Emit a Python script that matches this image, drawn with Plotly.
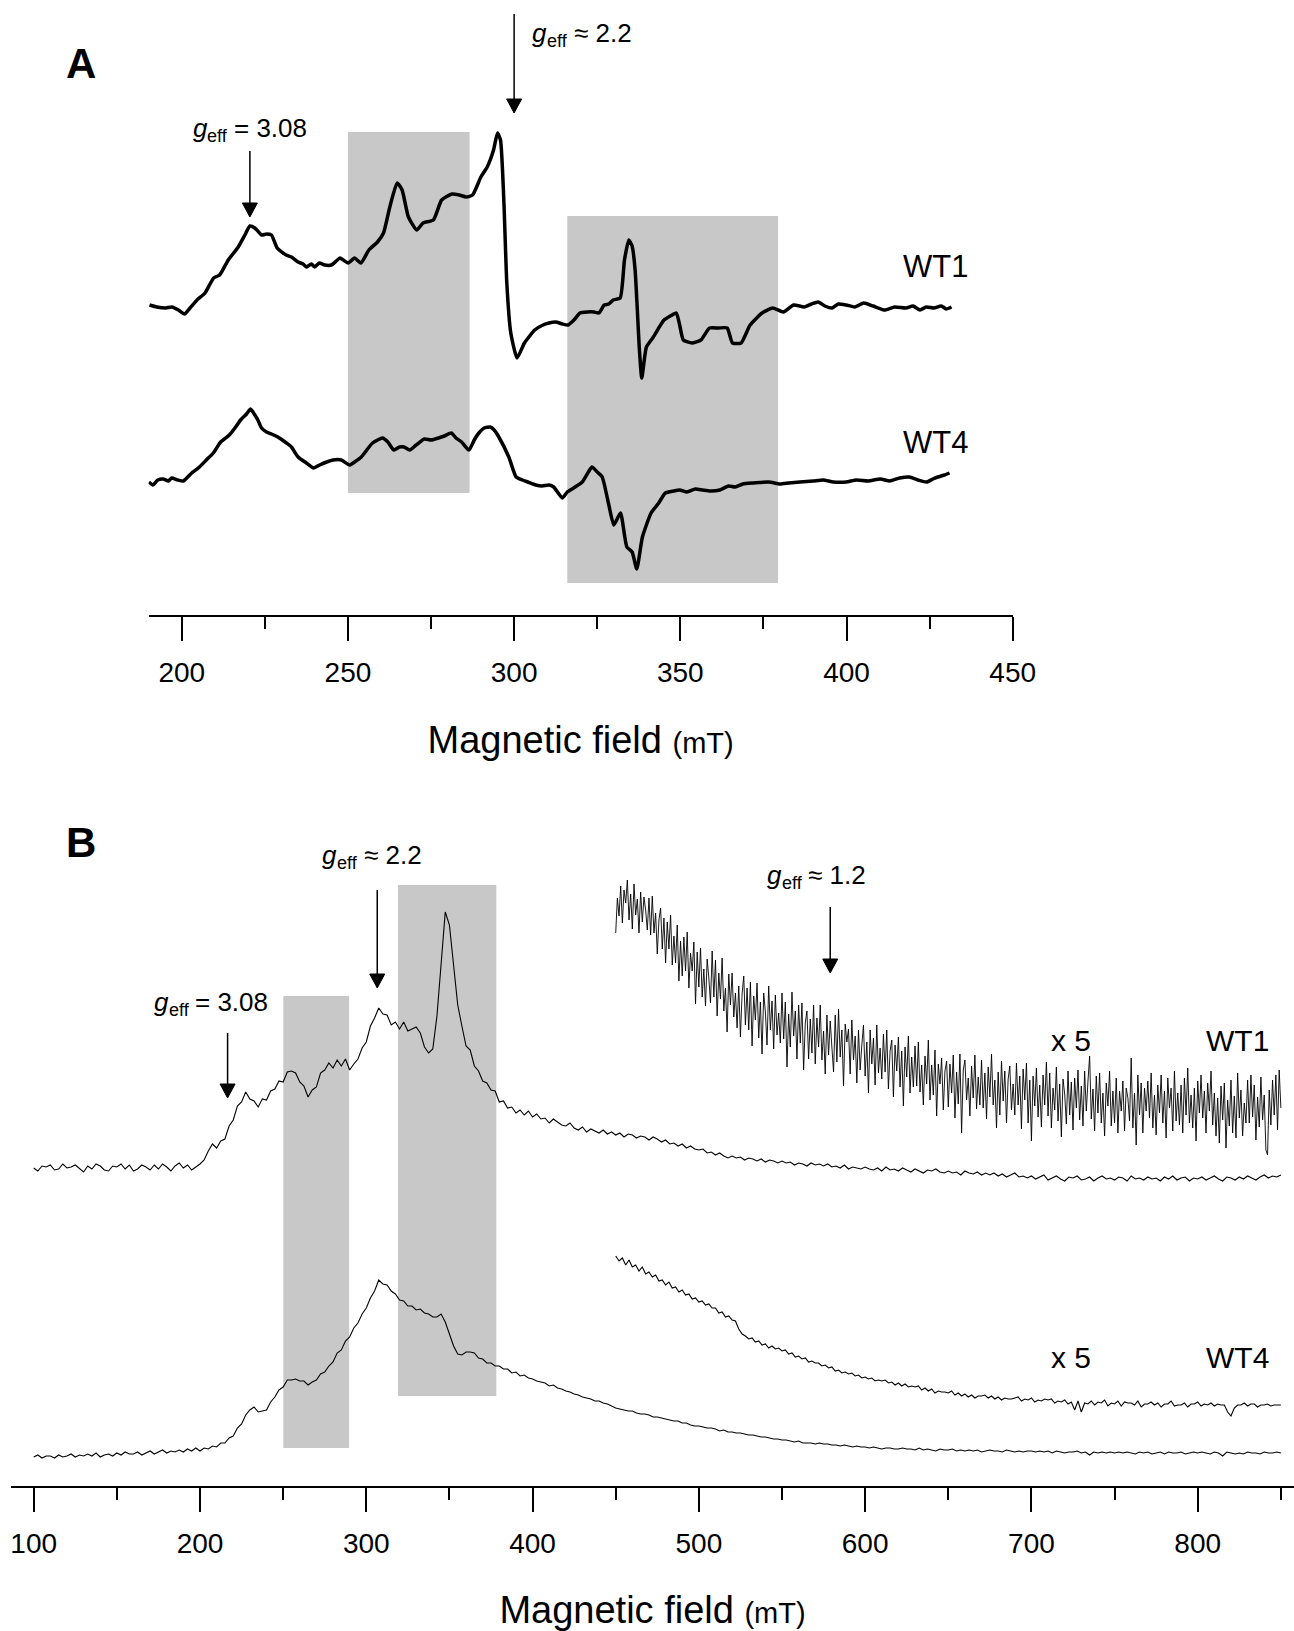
import numpy as np
import plotly.graph_objects as go

FONT = "Liberation Sans, Arial, Helvetica, sans-serif"

# ---------------- Panel A : smoothed EPR spectra (field in mT, dI/dB in a.u.) ----------------
A_WT1_FIELD = [190.3, 192.5, 195.2, 197.0, 199.0, 200.8, 202.5, 204.6, 207.0, 209.6,
               211.4, 214.0, 217.0, 219.0, 220.5, 222.0, 224.0, 225.5, 227.0, 228.7,
               231.4, 233.0, 235.0, 236.5, 237.6, 239.0, 240.0, 241.4, 243.0, 245.0,
               246.5, 247.6, 249.0, 250.1, 252.0, 253.9, 256.3, 258.9, 260.7, 262.6,
               264.8, 266.3, 268.2, 270.7, 272.6, 275.7, 278.2, 281.3, 283.5, 285.6,
               287.5, 290.0, 291.9, 293.8, 295.0, 295.9, 296.9, 297.8, 299.0, 300.9,
               303.1, 306.2, 308.7, 310.5, 312.5, 314.5, 316.2, 318.0, 319.8, 322.0,
               324.0, 325.5, 327.1, 328.5, 329.8, 331.9, 333.2, 334.5, 335.5, 336.4,
               337.7, 338.4, 339.8, 341.9, 343.5, 345.1, 347.0, 348.8, 349.8, 350.9,
               353.5, 356.2, 358.8, 361.5, 364.1, 365.7, 368.3, 371.0, 374.6, 377.8,
               381.0, 384.1, 387.3, 389.5, 391.5, 393.5, 395.7, 397.5, 399.9, 402.5,
               405.2, 408.0, 411.5, 414.5, 417.9, 420.0, 422.1, 424.0, 426.3, 428.5,
               430.0, 431.6]
A_WT1_SIGNAL = [5, 3, 2, 3, 0, -4, 2, 10, 17, 32,
                35, 50, 63, 75, 84, 82, 75, 76, 75, 62,
                55, 53, 48, 46, 43, 46, 43, 47, 45, 45,
                49, 52, 49, 47, 52, 47, 60, 68, 77, 103,
                127, 120, 93, 80, 87, 90, 110, 116, 115, 113,
                115, 133, 143, 160, 177, 170, 110, 27, -23, -48,
                -33, -20, -15, -13, -12, -14, -15, -10, -3, -2,
                -2, -3, 5, 6, 10, 12, 50, 70, 64, 40,
                -40, -68, -37, -27, -18, -10, -6, -3, -15, -30,
                -33, -30, -18, -18, -18, -33, -33, -15, -3, 2,
                -2, 5, 3, 6, 8, 4, 2, 6, 5, 3,
                7, 4, 0, 3, 2, 4, 0, 3, 2, 4,
                1, 3]

A_WT4_FIELD = [190.1, 191.3, 192.8, 194.4, 196.0, 197.0, 198.8, 200.5, 203.0, 205.0,
               207.4, 209.5, 211.7, 214.3, 216.0, 217.7, 219.5, 220.7, 222.0, 222.9,
               224.0, 225.5, 227.0, 228.9, 231.5, 233.0, 235.0, 237.5, 239.7, 241.5,
               243.6, 245.5, 248.0, 250.5, 252.0, 254.0, 257.4, 260.4, 262.0, 263.8,
               265.5, 266.9, 268.6, 270.5, 273.0, 275.0, 277.3, 279.0, 281.1, 282.5,
               284.2, 286.4, 288.0, 289.4, 291.0, 292.8, 294.0, 295.4, 298.4, 300.6,
               302.5, 304.1, 306.5, 308.4, 310.5, 311.9, 314.5, 316.0, 317.9, 320.5,
               322.0, 323.4, 325.0, 326.5, 328.5, 330.0, 332.0, 333.9, 335.5, 336.9,
               338.6, 341.2, 343.5, 345.5, 348.0, 349.8, 352.0, 354.5, 356.7, 359.0,
               361.9, 364.5, 366.5, 368.8, 372.0, 376.6, 380.0, 382.6, 386.0, 390.0,
               393.0, 396.0, 399.9, 403.0, 406.5, 410.2, 413.0, 416.0, 418.9, 421.5,
               424.1, 426.0, 427.5, 429.5, 431.0]
A_WT4_SIGNAL = [-2, -5, 0, 1, -1, 2, 0, -1, 7, 12,
                20, 27, 38, 45, 52, 60, 66, 71, 65, 60,
                52, 48, 46, 43, 37, 33, 23, 17, 12, 15,
                18, 20, 20, 15, 18, 23, 37, 42, 38, 30,
                33, 33, 30, 35, 41, 40, 42, 44, 47, 42,
                38, 30, 40, 47, 52, 53, 50, 43, 23, 3,
                0, -2, -5, -6, -5, -7, -18, -12, -8, -2,
                6, 13, 8, 3, -25, -45, -33, -67, -72, -89,
                -57, -33, -23, -13, -11, -10, -12, -9, -10, -11,
                -10, -6, -7, -4, -3, -2, -4, -3, -2, -1,
                0, -2, -2, 0, -1, 1, -1, 2, 3, 0,
                -2, 1, 3, 5, 7]

A_OFFSET = {"WT1": 305, "WT4": 135}
A_TICKS = [200, 250, 300, 350, 400, 450]
A_SHADE_FIELD = [(250.0, 286.6), (316.0, 379.4)]
A_SHADE_LEVEL = [(122, 483), (32, 399)]

# ---------------- Panel B : raw EPR spectra over a wide sweep ----------------
B_MAIN_SWEEP = (100, 850)   # mT, sampled every 2.5 mT
B_WT1 = [0, -3, 2, 1, 3, -2, -1, 4, 0, 1,
         3, -1, -4, 2, -1, 4, 2, -2, -3, 2,
         1, 4, -1, 3, -3, -1, 3, 1, -2, 3,
         -1, 4, 1, -3, 2, 5, 0, 3, -2, 1,
         4, 8, 17, 24, 20, 27, 29, 42, 48, 62,
         66, 76, 69, 67, 61, 69, 68, 77, 79, 87,
         86, 96, 97, 95, 86, 82, 71, 78, 81, 95,
         98, 105, 100, 108, 102, 109, 98, 104, 109, 120,
         126, 142, 150, 160, 154, 153, 143, 146, 139, 146,
         137, 139, 141, 135, 121, 115, 119, 152, 206, 256,
         243, 201, 163, 142, 122, 118, 102, 97, 87, 85,
         78, 77, 66, 67, 60, 61, 55, 58, 53, 57,
         51, 54, 49, 50, 45, 49, 46, 43, 42, 45,
         40, 38, 41, 36, 39, 37, 35, 38, 34, 36,
         33, 35, 31, 34, 33, 30, 32, 31, 28, 31,
         29, 26, 28, 24, 25, 22, 24, 20, 22, 19,
         18, 19, 15, 16, 13, 15, 12, 10, 12, 10,
         11, 8, 10, 9, 7, 9, 6, 8, 7, 5,
         7, 5, 6, 3, 5, 4, 2, 5, 3, 4,
         2, 4, 1, 2, 0, 3, -1, 1, 0, -1,
         1, -1, -2, 0, -3, 1, -2, -1, -3, 0,
         -2, -4, -1, -3, -5, -2, -3, -1, -4, -5,
         -3, -5, -4, -7, -3, -5, -6, -4, -7, -5,
         -7, -5, -8, -6, -9, -7, -5, -9, -8, -10,
         -8, -11, -9, -7, -12, -10, -8, -11, -13, -9,
         -10, -8, -12, -11, -9, -13, -10, -8, -11, -10,
         -12, -9, -10, -13, -8, -11, -10, -12, -9, -11,
         -10, -13, -9, -11, -8, -12, -10, -9, -13, -10,
         -11, -9, -12, -10, -8, -11, -13, -9, -10, -12,
         -9, -11, -8, -10, -12, -9, -7, -10, -8, -9,
         -7]
B_WT4 = [0, 2, -1, 1, 1, -1, 2, 0, 1, 3,
         0, 2, 1, 3, 1, 4, 0, 2, 3, 1,
         4, 2, 5, 3, 3, 5, 2, 4, 6, 3,
         5, 7, 4, 6, 5, 7, 5, 8, 6, 9,
         6, 9, 8, 11, 10, 14, 14, 19, 21, 29,
         33, 42, 47, 50, 45, 46, 47, 55, 60, 67,
         70, 77, 77, 78, 76, 76, 72, 75, 77, 83,
         85, 91, 95, 104, 107, 116, 120, 129, 134, 143,
         149, 159, 166, 177, 173, 172, 166, 163, 157, 156,
         151, 151, 147, 148, 144, 143, 140, 140, 143, 135,
         124, 111, 103, 102, 105, 105, 104, 99, 98, 94,
         94, 91, 91, 88, 88, 84, 85, 81, 82, 79,
         78, 76, 75, 74, 71, 72, 69, 68, 66, 65,
         63, 62, 60, 59, 58, 56, 56, 54, 53, 51,
         49, 48, 47, 46, 46, 44, 43, 43, 42, 40,
         40, 39, 38, 37, 36, 36, 34, 34, 32, 31,
         31, 30, 29, 29, 28, 26, 27, 25, 25, 24,
         24, 23, 22, 22, 21, 20, 20, 19, 18, 18,
         17, 17, 16, 15, 16, 14, 14, 14, 13, 14,
         13, 13, 12, 12, 11, 12, 11, 10, 11, 10,
         10, 9, 10, 9, 8, 9, 9, 8, 8, 9,
         8, 8, 7, 9, 7, 8, 7, 6, 8, 7,
         7, 8, 6, 7, 6, 7, 6, 7, 5, 6,
         7, 6, 6, 5, 7, 6, 5, 6, 5, 6,
         6, 5, 6, 5, 6, 4, 6, 5, 4, 5,
         5, 6, 4, 5, 2, 5, 4, 5, 4, 5,
         4, 5, 4, 5, 4, 3, 5, 4, 5, 3,
         4, 5, 3, 5, 4, 4, 5, 3, 4, 5,
         4, 5, 4, 3, 5, 4, 1, 5, 4, 3,
         4, 3, 5, 4, 4, 3, 5, 4, 4, 5,
         4]

B_X5_WT1_SWEEP = (450, 850)  # mT, sampled every 1 mT (x 5 magnified)
B_WT1_X5 = [170, 205, 187, 217, 180, 213, 200, 223, 183, 209, 174, 219, 188, 204, 170, 211, 181, 206, 193, 173,
            205, 168, 207, 170, 190, 149, 183, 195, 154, 185, 140, 181, 154, 188, 138, 167, 140, 178, 122, 162,
            127, 166, 132, 171, 115, 150, 132, 161, 99, 151, 116, 155, 106, 134, 97, 144, 125, 100, 152, 106,
            143, 87, 130, 104, 145, 92, 115, 71, 129, 98, 130, 86, 110, 75, 117, 66, 109, 127, 78, 115,
            73, 121, 57, 107, 83, 120, 65, 101, 49, 110, 91, 58, 117, 73, 102, 54, 108, 68, 90, 60,
            110, 64, 101, 36, 89, 56, 111, 67, 92, 44, 98, 60, 100, 33, 80, 92, 44, 84, 50, 98,
            39, 85, 56, 98, 43, 72, 29, 88, 48, 82, 56, 31, 88, 41, 94, 46, 73, 17, 79, 61,
            74, 29, 83, 43, 67, 20, 73, 33, 58, 78, 27, 61, 10, 73, 39, 65, 18, 78, 30, 55,
            24, 69, 31, 73, 14, 52, 63, 6, 58, 32, 66, 16, 52, -3, 56, 26, 67, 10, 46, 16,
            57, 17, 61, 11, 38, -2, 47, 19, 63, 3, 38, 8, 53, -13, 39, 19, 45, -7, 32, 42,
            -4, 39, 10, 48, -15, 31, -1, 49, -30, 33, 43, 3, 25, -13, 37, 5, 48, -6, 26, -2,
            43, -5, 30, -16, 36, 6, 49, -2, 23, -25, 31, -12, 42, 2, 32, -20, 24, 37, -7, 19,
            -12, 40, -2, 27, -26, 34, 3, 40, -20, 23, -38, 27, -3, 35, -14, 18, -24, 28, -2, 41,
            -13, 30, -25, 15, -7, 36, -18, 19, -34, 24, 9, -21, 32, -12, 21, -27, 25, -5, 33, -17,
            17, -23, 32, -8, 22, 47, -16, 14, -28, 27, -10, 30, -20, 10, -33, 20, -3, 32, -23, 12,
            -20, 25, -30, 12, -8, 22, -28, 15, 5, -18, 45, -25, 10, -42, 28, -12, 20, -30, 15, -8,
            22, -15, 30, -25, 8, -32, 18, -10, 28, -20, 12, -35, 25, -5, 15, -28, 32, -18, 10, -22,
            18, -30, 25, -12, 35, -20, 8, -25, 15, -38, 22, -10, 28, -15, 12, -30, 20, -8, 32, -22,
            10, -33, 5, -40, 17, -17, 20, -45, 3, -23, 23, -30, 7, -35, 30, -15, 13, -33, 0, -20,
            23, -20, 28, -14, 18, -37, 6, -24, 26, -17, 8, -47, -52, 13, -22, 23, -12, 28, -27, 33,
            -5]

B_X5_WT4_SWEEP = (450, 850)  # mT, sampled every 2 mT (x 5 magnified)
B_WT4_X5 = [150, 145, 148, 141, 146, 139, 141, 135, 139, 132,
            134, 129, 131, 125, 126, 121, 124, 118, 119, 114,
            116, 111, 112, 107, 108, 104, 105, 101, 102, 98,
            98, 93, 94, 89, 90, 86, 85, 77, 72, 70,
            67, 68, 64, 65, 61, 62, 58, 60, 57, 58,
            55, 56, 52, 53, 49, 50, 47, 48, 44, 45,
            43, 43, 40, 41, 38, 39, 35, 36, 33, 34,
            32, 33, 30, 31, 28, 29, 27, 28, 25, 26,
            25, 26, 23, 24, 21, 23, 20, 22, 19, 20,
            19, 20, 16, 18, 15, 17, 13, 15, 14, 14,
            13, 15, 11, 13, 10, 12, 9, 11, 8, 10,
            10, 11, 8, 10, 7, 9, 6, 8, 7, 7,
            8, 9, 5, 7, 6, 8, 4, 6, 5, 7,
            6, 7, 3, 5, 4, 6, 2, 4, -4, 5,
            -6, 3, 2, 5, 1, 4, 3, 6, 0, 3,
            2, 5, 0, 4, 3, 3, 1, 5, -1, 2,
            2, 4, 1, 3, -1, 2, 2, 5, 0, 1,
            1, 3, -1, 2, 2, 4, 0, 2, 1, 3,
            0, 2, 1, 1, -6, -10, -2, 1, 1, 3,
            0, 2, 2, -1, 1, 1, 2, 0, 1, 1,
            1]

B_OFFSET = {"WT1": 318, "WT4": 29, "WT1x5": 383, "WT4x5": 80}
B_TICKS = [100, 200, 300, 400, 500, 600, 700, 800]
B_SHADE_FIELD = [(250.1, 289.7), (319.1, 378.2)]
B_SHADE_LEVEL = [(38, 490), (90, 601)]

# ---------------- geometry ----------------
W, H = 1294, 1631
A_XDOM = [148.5 / W, 1012.7 / W]
A_XRNG = [190, 450]
A_YDOM = [1 - 615 / H, 1]
A_YRNG = [0, 615]
B_XDOM = [11 / W, 1.0]
B_XRNG = [86.35, 857.9]
B_YDOM = [1 - 1486 / H, 1 - 790 / H]
B_YRNG = [0, 696]

def px_per_unit(dom, rng, size):
    return (dom[1] - dom[0]) * size / (rng[1] - rng[0])

A_PPX = px_per_unit(A_XDOM, A_XRNG, W)
B_PPX = px_per_unit(B_XDOM, B_XRNG, W)
A_PPY = px_per_unit(A_YDOM, A_YRNG, H)
B_PPY = px_per_unit(B_YDOM, B_YRNG, H)

# ---------------- figure ----------------
fig = go.Figure()

def add(x, y, off, xa, ya, width, shape="linear"):
    line = dict(color="black", width=width, shape=shape)
    if shape == "spline":
        line["smoothing"] = 0.5
    fig.add_trace(go.Scatter(
        x=list(x), y=[v + off for v in y], mode="lines", xaxis=xa, yaxis=ya,
        line=line, hoverinfo="skip", showlegend=False))

add(A_WT1_FIELD, A_WT1_SIGNAL, A_OFFSET["WT1"], "x", "y", 3.5, "spline")
add(A_WT4_FIELD, A_WT4_SIGNAL, A_OFFSET["WT4"], "x", "y", 3.5, "spline")

bx_main = np.linspace(B_MAIN_SWEEP[0], B_MAIN_SWEEP[1], len(B_WT1))
bx_wt1x5 = np.linspace(B_X5_WT1_SWEEP[0], B_X5_WT1_SWEEP[1], len(B_WT1_X5))
bx_wt4x5 = np.linspace(B_X5_WT4_SWEEP[0], B_X5_WT4_SWEEP[1], len(B_WT4_X5))
add(bx_main, B_WT1, B_OFFSET["WT1"], "x2", "y2", 1.1)
add(bx_main, B_WT4, B_OFFSET["WT4"], "x2", "y2", 1.1)
add(bx_wt1x5, B_WT1_X5, B_OFFSET["WT1x5"], "x2", "y2", 0.9)
add(bx_wt4x5, B_WT4_X5, B_OFFSET["WT4x5"], "x2", "y2", 1.1)

shapes = []
for (x0, x1), (y0, y1) in zip(A_SHADE_FIELD, A_SHADE_LEVEL):
    shapes.append(dict(type="rect", xref="x", yref="y", x0=x0, x1=x1, y0=y0, y1=y1,
                       fillcolor="#c8c8c8", line=dict(width=0), layer="below"))
for (x0, x1), (y0, y1) in zip(B_SHADE_FIELD, B_SHADE_LEVEL):
    shapes.append(dict(type="rect", xref="x2", yref="y2", x0=x0, x1=x1, y0=y0, y1=y1,
                       fillcolor="#c8c8c8", line=dict(width=0), layer="below"))

def arrow(x, y_tail, y_tip, xr, yr, ppx, ppy, head_w=15, head_h=14):
    hw = head_w / 2 / ppx
    hh = head_h / ppy
    shapes.append(dict(type="line", xref=xr, yref=yr, x0=x, x1=x, y0=y_tail,
                       y1=y_tip + hh * 0.5, line=dict(color="black", width=1.5)))
    shapes.append(dict(type="path", xref=xr, yref=yr,
                       path=f"M {x - hw},{y_tip + hh} L {x + hw},{y_tip + hh} L {x},{y_tip} Z",
                       fillcolor="black", line=dict(color="black", width=1)))

ann = []

def text(x, y, s, xr, yr, size=30, xanchor="center", xshift=0, yshift=0, style="normal"):
    ann.append(dict(x=x, y=y, xref=xr, yref=yr, text=s, showarrow=False,
                    xanchor=xanchor, yanchor="middle", xshift=xshift, yshift=yshift,
                    borderpad=0,
                    font=dict(family=FONT, size=size, color="black", style=style)))

# g_eff labels: italic g, subscript "eff", then the value (Arial/Liberation advance widths)
G_SIZE, SUB_SIZE = 26, 18
ADV = {"g": 0.556, "e": 0.556, "f": 0.278, " ": 0.278, "=": 0.584, "\u2248": 0.549,
       ".": 0.278, "0": 0.556, "1": 0.556, "2": 0.556, "3": 0.556, "8": 0.556}

def g_label(x, y, rel, value, xr, yr, anchor="center"):
    w_g = ADV["g"] * G_SIZE
    w_sub = sum(ADV[c] for c in "eff") * SUB_SIZE
    rest = f"{rel} {value}"
    w_rest = (ADV[" "] + sum(ADV[c] for c in rest)) * G_SIZE
    total = w_g + w_sub + w_rest
    x0 = -total / 2 if anchor == "center" else 0
    text(x, y, "g", xr, yr, size=G_SIZE, xanchor="left", xshift=x0, style="italic")
    text(x, y, "eff", xr, yr, size=SUB_SIZE, xanchor="left", xshift=x0 + w_g + 0.5, yshift=-8)
    text(x, y, rest, xr, yr, size=G_SIZE, xanchor="left",
         xshift=x0 + w_g + w_sub + ADV[" "] * G_SIZE)

# panel A
g_label(220.2, 487, "=", "3.08", "x", "y")
arrow(220.5, 464, 398, "x", "y", A_PPX, A_PPY)
g_label(305.1, 582, "\u2248", "2.2", "x", "y", anchor="left")
arrow(300.0, 601, 502, "x", "y", A_PPX, A_PPY)
text(426.9, 349, "WT1", "x", "y", size=31)
text(426.9, 173, "WT4", "x", "y", size=31)
# panel B
g_label(206.0, 484, "=", "3.08", "x2", "y2")
arrow(216.6, 453, 388, "x2", "y2", B_PPX, B_PPY)
g_label(302.8, 631, "\u2248", "2.2", "x2", "y2")
arrow(306.6, 596, 498, "x2", "y2", B_PPX, B_PPY)
g_label(570.0, 611, "\u2248", "1.2", "x2", "y2")
arrow(579.0, 579, 513, "x2", "y2", B_PPX, B_PPY)
text(723.8, 446, "x 5", "x2", "y2", size=30)
text(824.2, 446, "WT1", "x2", "y2", size=30)
text(723.8, 129, "x 5", "x2", "y2", size=30)
text(824.2, 129, "WT4", "x2", "y2", size=30)
# panel letters
for letter, ypx in (("A", 64), ("B", 842)):
    ann.append(dict(x=81 / W, y=1 - ypx / H, xref="paper", yref="paper",
                    text=letter, showarrow=False, xanchor="center", yanchor="middle",
                    font=dict(family=FONT, size=42, color="black", weight="bold")))

TITLE = 'Magnetic field <span style="font-size:29px">(mT)</span>'

def xaxis(domain, rng, ticks, minor_dtick, anchor):
    return dict(domain=domain, range=rng, anchor=anchor, automargin=False,
                showline=True, linecolor="black", linewidth=1.5,
                ticks="outside", ticklen=24, tickwidth=1.5, tickcolor="black",
                tickmode="array", tickvals=ticks, ticktext=[str(t) for t in ticks],
                tickfont=dict(family=FONT, size=28, color="black"),
                ticklabelstandoff=8,
                minor=dict(ticks="outside", ticklen=12, tickwidth=1.5, tickcolor="black",
                           dtick=minor_dtick, tick0=0, showgrid=False),
                showgrid=False, zeroline=False, fixedrange=True,
                title=dict(text=TITLE, font=dict(family=FONT, size=38, color="black"),
                           standoff=39))

fig.update_layout(
    template="none",
    width=W, height=H, autosize=False,
    margin=dict(l=0, r=0, t=0, b=0, pad=0, autoexpand=False),
    paper_bgcolor="white", plot_bgcolor="white", showlegend=False,
    xaxis=xaxis(A_XDOM, A_XRNG, A_TICKS, 25, "y"),
    yaxis=dict(domain=A_YDOM, range=A_YRNG, visible=False, fixedrange=True),
    xaxis2=xaxis(B_XDOM, B_XRNG, B_TICKS, 50, "y2"),
    yaxis2=dict(domain=B_YDOM, range=B_YRNG, visible=False, fixedrange=True),
    shapes=shapes, annotations=ann,
)

fig.write_html("out.html", config={"responsive": False, "displayModeBar": False})
